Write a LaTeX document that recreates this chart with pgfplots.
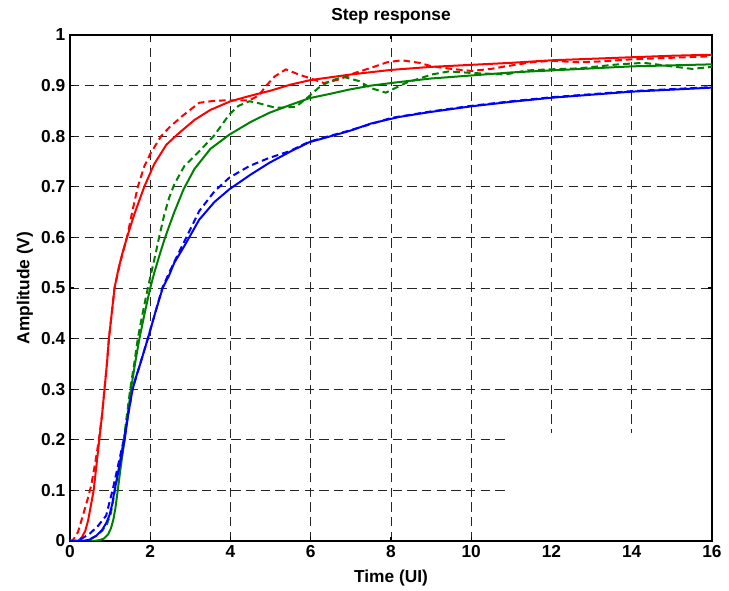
\documentclass[border=0pt]{standalone}
\usepackage{fontspec}
\setmainfont{Liberation Sans}
\usepackage{pgfplots}
\pgfplotsset{compat=1.18}
\definecolor{mgreen}{RGB}{0,128,0}

\begin{document}
\begin{tikzpicture}
\begin{axis}[
  scale only axis, width=481.5pt, height=379.5pt,
  xmin=0, xmax=16, ymin=0, ymax=1,
  xtick={0,2,...,16}, ytick={0,0.1,...,1},
  tick pos=both, tick align=inside, major tick length=3pt,
  axis line style={line width=1pt},
  every tick/.style={black, line width=0.8pt},
  grid=major,
  major grid style={black!85, line width=0.6pt, dash pattern=on 7pt off 4pt},
  font=\fontsize{13}{15}\selectfont\bfseries,
  /pgf/number format/assume math mode=true,
  ticklabel style={font=\fontsize{13}{15}\selectfont\bfseries},
  title={Step response},
  title style={at={(axis description cs:0.5,1.022)}, anchor=center},
  xlabel={Time (UI)},
  xlabel style={at={(axis description cs:0.5,-0.0731)}, anchor=center},
  ylabel={Amplitude (V)},
  ylabel style={at={(axis description cs:-0.0701,0.5)}, anchor=center},
  every axis plot/.append style={line width=1.5pt},
]
% legend area left blank in the original
\fill[white] (axis cs:10.94,0) rectangle (axis cs:16,0.213);
\draw[line width=1pt] (axis cs:10.9,0) -- (axis cs:16,0) -- (axis cs:16,0.22);

% red, solid
\addplot[red] coordinates {
(0,0) (0.2,0) (0.3,0.008) (0.38,0.02) (0.45,0.04) (0.52,0.07) (0.59,0.1) (0.66,0.15)
(0.73,0.2) (0.8,0.25) (0.86,0.3) (0.92,0.35) (0.97,0.4) (1.04,0.45) (1.11,0.5)
(1.2,0.535) (1.3,0.567) (1.42,0.6) (1.6,0.645) (1.85,0.7) (2.1,0.745) (2.4,0.783)
(2.67,0.803) (3.1,0.832) (3.5,0.852) (4,0.869) (4.5,0.88) (5,0.89) (5.5,0.902)
(6,0.911) (7,0.922) (8,0.931) (9,0.937) (10,0.941) (11,0.945) (12,0.95)
(13,0.953) (14,0.956) (15,0.959) (16,0.961)};
% red, dashed
\addplot[red, dash pattern=on 5pt off 3pt] coordinates {
(0,0) (0.05,0) (0.1,0.005) (0.2,0.018) (0.32,0.05) (0.43,0.08) (0.53,0.11) (0.63,0.155)
(0.72,0.2) (0.8,0.25) (0.86,0.3) (0.92,0.35) (0.97,0.4) (1.04,0.45) (1.11,0.5)
(1.25,0.55) (1.42,0.6) (1.55,0.65) (1.69,0.7) (1.85,0.74) (2.0,0.765) (2.27,0.8)
(2.47,0.817) (2.8,0.84) (3.22,0.866) (3.6,0.87) (3.97,0.871) (4.47,0.871) (4.7,0.88)
(4.88,0.899) (5.1,0.918) (5.38,0.932) (5.7,0.922) (5.96,0.915) (6.33,0.905)
(6.7,0.912) (7.1,0.925) (7.5,0.935) (7.9,0.946) (8.27,0.95) (8.7,0.945) (9.02,0.938)
(9.5,0.933) (10,0.929) (10.5,0.933) (10.85,0.938) (11.5,0.946) (12,0.949)
(12.7,0.946) (13.3,0.948) (14,0.952) (15,0.955) (16,0.958)};
% green, solid
\addplot[mgreen] coordinates {
(0,0) (0.6,0) (0.75,0.002) (0.85,0.005) (0.95,0.013) (1.02,0.025) (1.08,0.042)
(1.13,0.064) (1.19,0.1) (1.27,0.15) (1.36,0.2) (1.44,0.25) (1.52,0.3) (1.62,0.35)
(1.73,0.4) (1.86,0.45) (2.0,0.5) (2.1,0.53) (2.22,0.562) (2.35,0.595) (2.47,0.622)
(2.6,0.65) (2.83,0.695) (3.1,0.735) (3.5,0.775) (3.97,0.803) (4.5,0.828) (4.96,0.846)
(5.5,0.862) (5.96,0.875) (6.5,0.884) (6.95,0.892) (7.5,0.9) (8.2,0.907) (9,0.914)
(10,0.92) (11,0.926) (12,0.93) (13,0.934) (14,0.938) (15,0.94) (16,0.942)};
% green, dashed
\addplot[mgreen, dash pattern=on 5pt off 3pt] coordinates {
(0,0) (0.35,0) (0.5,0.004) (0.65,0.01) (0.8,0.02) (0.92,0.033) (1.02,0.055) (1.12,0.1)
(1.23,0.15) (1.34,0.2) (1.42,0.25) (1.5,0.3) (1.6,0.35) (1.69,0.4) (1.81,0.45)
(1.94,0.5) (2.04,0.535) (2.14,0.57) (2.22,0.6) (2.35,0.645) (2.47,0.678) (2.6,0.705)
(2.85,0.741) (3.22,0.77) (3.6,0.802) (3.97,0.843) (4.2,0.86) (4.47,0.869)
(4.71,0.865) (5.13,0.856) (5.63,0.858) (5.96,0.879) (6.2,0.896) (6.5,0.91)
(6.83,0.917) (7.2,0.909) (7.5,0.895) (7.87,0.886) (8.36,0.905) (9.02,0.922)
(9.44,0.928) (10,0.925) (10.85,0.922) (11.4,0.93) (11.93,0.932) (12.67,0.934)
(13.67,0.942) (14.3,0.945) (14.8,0.94) (15.5,0.933) (16,0.937)};
% blue, solid
\addplot[blue] coordinates {
(0,0) (0.35,0) (0.5,0.003) (0.65,0.01) (0.8,0.022) (0.9,0.035) (0.98,0.05) (1.05,0.072)
(1.11,0.1) (1.24,0.15) (1.36,0.2) (1.45,0.25) (1.56,0.3) (1.65,0.325) (1.75,0.35)
(1.94,0.4) (2.12,0.45) (2.31,0.5) (2.47,0.525) (2.6,0.55) (2.85,0.583) (3.22,0.635)
(3.6,0.67) (3.97,0.695) (4.5,0.724) (4.96,0.747) (5.5,0.77) (5.96,0.788) (6.5,0.8)
(6.95,0.81) (7.5,0.825) (8.2,0.838) (9,0.848) (10,0.859) (11,0.868) (12,0.876)
(13,0.882) (14,0.888) (15,0.892) (16,0.896)};
% blue, dashed
\addplot[blue, dash pattern=on 5pt off 3pt] coordinates {
(0,0) (0.15,0) (0.3,0.005) (0.5,0.015) (0.7,0.03) (0.9,0.05) (1.06,0.1) (1.2,0.15)
(1.34,0.2) (1.45,0.25) (1.56,0.3) (1.65,0.325) (1.75,0.35) (1.94,0.4) (2.12,0.45)
(2.3,0.5) (2.47,0.53) (2.65,0.56) (2.85,0.592) (3.22,0.652) (3.6,0.691) (3.97,0.718)
(4.47,0.741) (4.96,0.757) (5.46,0.77) (5.96,0.789) (6.5,0.801) (7,0.812) (8,0.836)
(9,0.849) (10,0.86) (11,0.869) (12,0.877) (13,0.883) (14,0.889) (15,0.893)
(16,0.897)};
\end{axis}
\pgfresetboundingbox
\path[use as bounding box]
  ([shift={(-52.5pt,-37.5pt)}]current axis.south west)
  rectangle ([shift={(12.75pt,26.25pt)}]current axis.north east);
\end{tikzpicture}
\end{document}
